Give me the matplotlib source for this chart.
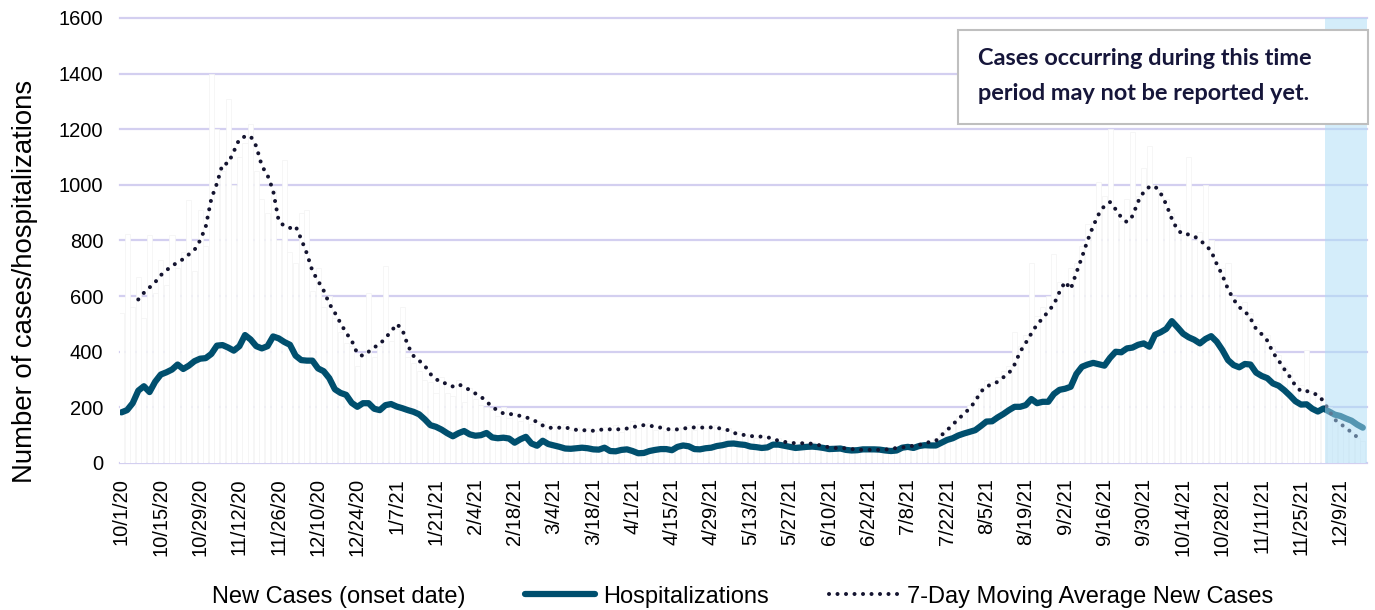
import pandas as pd
import matplotlib.pyplot as plt
from matplotlib.lines import Line2D
from matplotlib.patches import Patch, Rectangle

plt.rcParams['font.family'] = ['Liberation Sans', 'DejaVu Sans']

# every series every 2nd day
start = '2020-10-01'
ma_start = '2020-10-07'
last_day = '2021-12-18'
unreported_from = '2021-12-04'

hospitalizations = [
    182, 190, 215, 260, 276, 255, 292, 318, 326, 336, 354, 338, 350, 366, 375, 377, 392, 422, 424,
    415, 404, 420, 460, 444, 420, 412, 420, 455, 448, 435, 425, 386, 370, 368, 368, 340, 330,
    305, 265, 252, 245, 216, 202, 215, 215, 195, 190, 208, 212, 203, 197, 190, 184, 175, 157, 136,
    130, 120, 107, 96, 107, 115, 103, 98, 100, 108, 92, 89, 91, 88, 73, 85, 94, 70, 62,
    80, 68, 63, 58, 52, 51, 53, 55, 53, 49, 48, 55, 43, 42, 47, 49, 43, 35, 36, 43, 47, 50,
    50, 46, 58, 63, 60, 50, 49, 53, 55, 61, 64, 69, 70, 67, 65,
    59, 57, 54, 56, 66, 66, 62, 58, 54, 56, 58, 59, 57, 54, 50, 51, 52, 47, 45, 46, 49, 49,
    49, 48, 45, 43, 45, 55, 58, 54, 61, 64, 63, 63, 73, 83, 89, 99,
    106, 112, 118, 133, 149, 150, 164, 176, 190, 202, 202, 208, 230, 215, 220, 220, 248, 263,
    267, 274, 320, 346, 354, 360, 355, 350, 378, 400, 398, 412, 415, 425, 430, 418, 461, 470, 482,
    510, 488, 465, 452, 443, 430, 446, 456, 436, 406, 370, 352, 344, 356, 354, 325, 313, 305,
    286, 278, 262, 243, 222, 210, 211, 195, 185, 196, 185, 174, 169, 160, 152, 138, 127,
]

moving_avg = [
    588, 612, 631, 650, 675, 693, 708, 722, 733, 750, 766, 800, 849, 950, 1005, 1075, 1077,
    1120, 1165, 1174, 1175, 1139, 1068, 1035, 980, 870, 852, 845, 852, 805, 754, 690, 655, 620,
    573, 540, 503, 468, 440, 393, 385, 400, 416, 427, 450, 472, 500, 480, 422, 385, 368, 350,
    320, 302, 288, 286, 275, 283, 274, 262, 250, 238, 222, 200, 190, 178, 176, 175, 169, 165,
    156, 148,
    135, 127, 126, 127, 128, 123, 119, 119, 116, 116, 119, 121, 121, 121, 121, 124, 128, 134,
    136, 134, 131, 127, 123, 119, 121, 124, 126, 128, 127, 128, 128, 126, 123, 118, 108, 104, 100,
    97, 95, 95, 93, 86, 80, 76, 73, 71, 71, 71, 69, 65, 61, 56, 54, 53, 53, 50, 48, 47, 47,
    47, 47, 48, 51, 54, 56, 59, 62, 65, 69, 77, 80, 100, 118, 138, 158,
    177, 196, 222, 256, 276, 282, 292, 308, 323, 354, 400, 432, 466, 498, 520, 545, 570, 615,
    652, 625, 684, 740, 800, 852, 895, 925, 938, 912, 883, 866, 888, 940, 975, 993, 995, 970, 930,
    878, 838, 822, 822, 815, 801, 784, 762, 715, 675, 625, 588, 560, 546, 520, 482, 463, 440,
    397, 369, 338, 310, 278, 258, 259, 251, 245, 222, 188, 156, 141, 126, 110, 93, 97,
]

new_cases = [
    540, 825, 560, 670, 520, 820, 610, 730, 640, 820, 700, 760, 945, 690, 910, 780, 1400, 1200,
    1050, 1310, 1000, 1100, 1150, 1220, 1050, 950, 900, 980, 800, 1090, 760, 720, 900, 910, 620,
    700, 560,
    600, 520, 470, 430, 420, 350, 390, 610, 380, 420, 710, 440, 480, 560, 380, 360, 330, 300,
    290, 250, 310, 250, 240, 300, 220, 270, 230, 210, 200, 190, 170, 200, 160, 180, 150, 160,
    140, 150,
    150, 120, 140, 130, 140, 120, 130, 110, 125, 120, 115, 130, 120, 135, 110, 130, 150, 125,
    140, 145, 120, 135, 115, 120, 130, 125, 135, 120, 140, 125, 130, 135, 120, 125, 110, 115, 100,
    105, 90, 100, 95, 85, 90, 75, 80, 70, 75, 65, 75, 70, 60, 65, 55, 60, 50, 55, 45, 50, 45,
    50, 45, 50, 55, 50, 60, 55, 65, 60, 70, 75, 90, 110, 125, 150, 170,
    190, 210, 240, 270, 300, 290, 310, 330, 350, 470, 420, 460, 720, 530, 560, 600, 750, 650,
    640, 700, 720, 780, 860, 870, 1010, 960, 1200, 900, 870, 950, 1190, 960, 1060, 1140, 1000,
    980, 950,
    900, 860, 820, 1100, 800, 830, 1000, 800, 720, 700, 720, 600, 560, 580, 540, 500, 470, 460,
    420, 390, 350, 330, 300, 280, 406, 260, 250, 230, 200, 160, 150, 130, 110, 90, 80,
]

tick_labels = [
    '10/1/20', '10/15/20', '10/29/20', '11/12/20', '11/26/20', '12/10/20', '12/24/20',
    '1/7/21', '1/21/21', '2/4/21', '2/18/21', '3/4/21', '3/18/21', '4/1/21', '4/15/21',
    '4/29/21', '5/13/21', '5/27/21', '6/10/21', '6/24/21', '7/8/21', '7/22/21', '8/5/21',
    '8/19/21', '9/2/21', '9/16/21', '9/30/21', '10/14/21', '10/28/21', '11/11/21',
    '11/25/21', '12/9/21',
]

hosp_color = '#004f6e'
ma_color = '#141430'
ma_style = (0, (0.01, 2.1))

days = pd.date_range(start, periods=len(hospitalizations), freq='2D')
ma_days = pd.date_range(ma_start, periods=len(moving_avg), freq='2D')
ticks = pd.to_datetime(tick_labels, format='%m/%d/%y')
half = pd.Timedelta(hours=12)

fig = plt.figure(figsize=(13.75, 6.1), dpi=100)
ax = fig.add_axes([0.0873, 0.241, 0.9069, 0.7295])

ax.bar(days, new_cases, width=1.8, color='white', edgecolor='#f3f3f3', linewidth=0.5, zorder=2)
ax.plot(days, hospitalizations, color=hosp_color, lw=4.5,
        solid_joinstyle='round', solid_capstyle='round', zorder=3)
ax.plot(ma_days, moving_avg, color=ma_color, lw=2.9, linestyle=ma_style,
        dash_capstyle='round', zorder=4)
ax.axvspan(pd.Timestamp(unreported_from) - half, pd.Timestamp(last_day) + half,
           color='#abddf7', alpha=0.5, lw=0, zorder=5)

ax.set_xlim(pd.Timestamp(start) - half, pd.Timestamp(last_day) + half)
ax.set_ylim(0, 1600)
ax.set_yticks(range(0, 1601, 200))
ax.grid(axis='y', color='#d3cff0', lw=1.6)
ax.set_axisbelow(True)
for gl in ax.get_ygridlines():
    gl.set_clip_on(False)
for s in ax.spines.values():
    s.set_visible(False)

ax.set_xticks(ticks)
ax.set_xticklabels(tick_labels, rotation=90)
ax.tick_params(axis='both', length=0, labelsize=14.5)
ax.tick_params(axis='x', pad=11)
ax.tick_params(axis='y', pad=12)
ax.set_ylabel('Number of cases/hospitalizations', fontsize=19.8)
ax.yaxis.set_label_coords(-0.066, 0.407)

handles = [
    Patch(facecolor='white', edgecolor='none'),
    Line2D([], [], color=hosp_color, lw=4.5, solid_capstyle='round'),
    Line2D([], [], color=ma_color, lw=2.9, linestyle=ma_style, dash_capstyle='round'),
]
fig.legend(handles, ['New Cases (onset date)', 'Hospitalizations', '7-Day Moving Average New Cases'],
           loc='center', bbox_to_anchor=(0.5115, 0.022), ncol=3, frameon=False, fontsize=17,
           handlelength=2.97, handletextpad=0.34, columnspacing=2.54, borderpad=0)

# note box over the last weeks
fig.add_artist(Rectangle((0.6967, 0.7967), 0.2982, 0.1541, transform=fig.transFigure,
                         facecolor='white', edgecolor='#bfbfbf', lw=1.5, zorder=10))
note_font = dict(fontsize=16.9, fontweight='bold', family=['Lato', 'DejaVu Sans'],
                 color='#16163a', va='center', zorder=11)
fig.text(0.7113, 0.9049, 'Cases occurring during this time', **note_font)
fig.text(0.7113, 0.8475, 'period may not be reported yet.', **note_font)

fig.savefig('out.png', dpi=100)
